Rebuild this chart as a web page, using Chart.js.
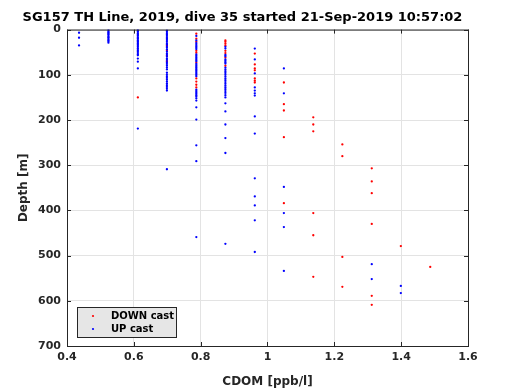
<!DOCTYPE html>
<html>
<head>
<meta charset="utf-8">
<script src="https://cdn.jsdelivr.net/npm/chart.js@4/dist/chart.umd.min.js"></script>
<style>
  html, body { margin: 0; padding: 0; background: #fff; }
  #wrap { width: 520px; height: 390px; position: relative; }
</style>
</head>
<body>
<div id="wrap"><canvas id="cdomChart"></canvas></div>
<script>
// CDOM values come in discrete steps
const cdomLevels = [0.436, 0.524, 0.612, 0.699, 0.787, 0.874, 0.962, 1.049, 1.137, 1.224, 1.312, 1.399, 1.487];

// depths [m] per CDOM level, down cast
const downDepths = [
    [],
    [],
    [150],
    [35, 47, 58, 70],
    [9, 20, 27, 47, 51, 73, 108, 115, 122, 128],
    [24, 27, 31, 35, 47, 52, 62, 80],
    [53, 77, 86, 90, 108, 113, 117],
    [117, 165, 179, 238, 384],
    [194, 210, 225, 406, 455, 547],
    [254, 280, 503, 569],
    [307, 336, 362, 430, 589, 609],
    [479],
    [525]
];

// depths [m] per CDOM level, up cast
const upDepths = [
    [7, 18, 35],
    [1, 4, 6, 8, 10, 12, 15, 17, 19, 22, 24, 26, 29],
    [1, 3, 5, 8, 10, 12, 14, 17, 19, 21, 24, 26, 28, 31, 33, 36, 38, 41, 43, 46, 49, 52, 55, 57, 64, 71, 86, 219],
    [2, 5, 8, 11, 14, 17, 20, 23, 26, 30, 33, 37, 40, 44, 49, 53, 56, 60, 64, 67, 72, 76, 80, 84, 88, 95, 99, 103, 107, 111, 115, 119, 123, 127, 131, 135, 309],
    [14, 24, 30, 34, 37, 40, 43, 55, 58, 61, 64, 67, 70, 76, 79, 82, 85, 88, 91, 94, 97, 100, 103, 133, 136, 139, 142, 145, 148, 152, 157, 172, 199, 256, 291, 459],
    [38, 42, 56, 59, 66, 69, 72, 75, 84, 88, 92, 96, 100, 104, 108, 112, 116, 120, 124, 128, 132, 136, 140, 145, 150, 163, 181, 210, 240, 273, 474],
    [42, 66, 97, 128, 135, 141, 146, 192, 230, 329, 369, 389, 422, 492],
    [86, 141, 348, 406, 437, 534],
    [],
    [],
    [519, 552],
    [567, 583],
    []
];

const xTicks = [0.4, 0.6, 0.8, 1.0, 1.2, 1.4, 1.6];
const yTicks = [0, 100, 200, 300, 400, 500, 600, 700];

function toPoints(depthLists) {
    const pts = [];
    depthLists.forEach(function(list, i) {
        list.forEach(function(d) { pts.push({ x: cdomLevels[i], y: d }); });
    });
    return pts;
}

const axisColor = '#262626';
const fontFamily = '"DejaVu Sans", sans-serif';

// box around the plot plus small inward ticks (matlab style)
const boxPlugin = {
    id: 'boxPlugin',
    afterDatasetsDraw: function(chart) {
        const ctx = chart.ctx;
        const a = chart.chartArea;
        const xs = chart.scales.x, ys = chart.scales.y;
        ctx.save();
        ctx.strokeStyle = axisColor;
        ctx.lineWidth = 1;
        ctx.strokeRect(a.left + 0.5, a.top + 0.5, a.right - a.left, a.bottom - a.top);
        ctx.beginPath();
        xTicks.forEach(function(t) {
            const px = Math.round(xs.getPixelForValue(t)) + 0.5;
            ctx.moveTo(px, a.bottom); ctx.lineTo(px, a.bottom - 4);
            ctx.moveTo(px, a.top); ctx.lineTo(px, a.top + 4);
        });
        yTicks.forEach(function(t) {
            const py = Math.round(ys.getPixelForValue(t)) + 0.5;
            ctx.moveTo(a.left, py); ctx.lineTo(a.left + 4, py);
            ctx.moveTo(a.right, py); ctx.lineTo(a.right - 4, py);
        });
        ctx.stroke();
        ctx.restore();
    }
};

// legend box in lower-left corner of plot
const legendBoxPlugin = {
    id: 'legendBox',
    afterDraw: function(chart) {
        const ctx = chart.ctx;
        const a = chart.chartArea;
        const x0 = a.left + 10, y0 = a.bottom - 39, w = 99, h = 30;
        ctx.save();
        ctx.fillStyle = '#e6e6e6';
        ctx.fillRect(x0, y0, w, h);
        ctx.strokeStyle = '#262626';
        ctx.lineWidth = 1;
        ctx.strokeRect(x0 + 0.5, y0 + 0.5, w, h);
        ctx.font = 'bold 10px ' + fontFamily;
        ctx.textBaseline = 'middle';
        chart.data.datasets.forEach(function(ds, i) {
            const cy = y0 + 9 + i * 13;
            ctx.fillStyle = ds.backgroundColor;
            ctx.beginPath();
            ctx.arc(x0 + 16, cy, 1.1, 0, Math.PI * 2);
            ctx.fill();
            ctx.fillStyle = '#000';
            ctx.fillText(ds.label, x0 + 34, cy);
        });
        ctx.restore();
    }
};

new Chart(document.getElementById('cdomChart'), {
    type: 'scatter',
    data: {
        datasets: [{
            label: 'DOWN cast',
            data: toPoints(downDepths),
            backgroundColor: '#ff0000',
            borderWidth: 0,
            pointRadius: 1.15,
            order: 2
        }, {
            label: 'UP cast',
            data: toPoints(upDepths),
            backgroundColor: '#0000ff',
            borderWidth: 0,
            pointRadius: 1.15,
            order: 1
        }]
    },
    options: {
        responsive: true,
        maintainAspectRatio: false,
        animation: false,
        layout: { padding: { left: 17, right: 52, top: 0, bottom: 0 } },
        plugins: {
            legend: { display: false },
            tooltip: { enabled: false },
            title: {
                display: true,
                text: 'SG157 TH Line, 2019, dive 35 started 21-Sep-2019 10:57:02',
                color: '#000',
                font: { family: fontFamily, size: 13, weight: 'bold' },
                padding: { top: 10, bottom: 4 }
            }
        },
        scales: {
            x: {
                type: 'linear',
                min: 0.4,
                max: 1.6,
                afterFit: function(s) { s.height = 44; },
                afterBuildTicks: function(s) { s.ticks = xTicks.map(function(v) { return { value: v }; }); },
                grid: { color: '#e3e3e3', drawTicks: false },
                border: { display: false },
                ticks: {
                    color: axisColor,
                    padding: 5,
                    font: { family: fontFamily, size: 11, weight: 'bold' },
                    callback: function(v) { return String(+v.toFixed(1)); }
                },
                title: {
                    display: true,
                    text: 'CDOM [ppb/l]',
                    color: axisColor,
                    font: { family: fontFamily, size: 12, weight: 'bold' },
                    padding: { top: 0, bottom: 1 }
                }
            },
            y: {
                type: 'linear',
                reverse: true,
                min: 0,
                max: 700,
                afterFit: function(s) { s.width = 50; },
                afterBuildTicks: function(s) { s.ticks = yTicks.map(function(v) { return { value: v }; }); },
                grid: { color: '#e3e3e3', drawTicks: false },
                border: { display: false },
                ticks: {
                    color: axisColor,
                    padding: 6,
                    font: { family: fontFamily, size: 11, weight: 'bold' }
                },
                title: {
                    display: true,
                    text: 'Depth [m]',
                    color: axisColor,
                    font: { family: fontFamily, size: 12, weight: 'bold' },
                    padding: { top: 0, bottom: 6 }
                }
            }
        }
    },
    plugins: [boxPlugin, legendBoxPlugin]
});
</script>
</body>
</html>
